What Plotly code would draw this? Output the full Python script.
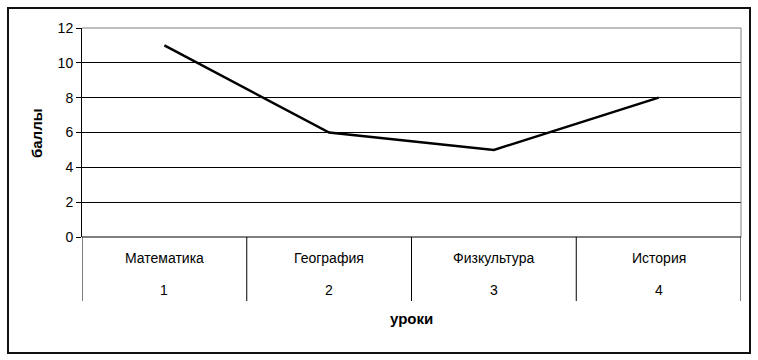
import plotly.graph_objects as go

subjects = ["Математика", "География", "Физкультура", "История"]
lesson_numbers = ["1", "2", "3", "4"]
scores = [11, 6, 5, 8]
y_ticks = [0, 2, 4, 6, 8, 10, 12]

W, H = 758, 360
L, R, T, B = 82, 741, 28, 237
PW, PH = R - L, B - T

def px_x(x):
    return (x - L) / PW

def px_y(y):
    return (B - y) / PH

positions = list(range(1, len(subjects) + 1))
font = "Liberation Sans, Arial, sans-serif"
FS = 14

fig = go.Figure()
fig.add_trace(go.Scatter(x=positions, y=scores, mode="lines",
                         line=dict(color="black", width=2.5), showlegend=False,
                         hoverinfo="skip"))

fig.update_layout(
    width=W, height=H,
    margin=dict(l=L, r=W - R, t=T, b=H - B),
    paper_bgcolor="white", plot_bgcolor="white",
    font=dict(family=font, size=FS, color="black"),
    xaxis=dict(range=[0.5, len(subjects) + 0.5], showticklabels=False, showgrid=False,
               zeroline=False, showline=False, ticks=""),
    yaxis=dict(range=[0, 12], tickvals=y_ticks, showgrid=True, gridcolor="black",
               gridwidth=1, zeroline=False, showline=True, linecolor="black",
               linewidth=1, ticks="outside", ticklen=5, tickcolor="black",
               tickfont=dict(size=FS, color="black")),
)

shapes = []
shapes.append(dict(type="line", xref="paper", yref="paper", x0=0, x1=1, y0=1, y1=1,
                   line=dict(color="#808080", width=1)))
shapes.append(dict(type="line", xref="paper", yref="paper", x0=1, x1=1, y0=0, y1=1,
                   line=dict(color="#808080", width=1)))
shapes.append(dict(type="line", xref="paper", yref="paper", x0=0, x1=1, y0=0, y1=0,
                   line=dict(color="black", width=1)))
for i in range(len(subjects) + 1):
    shapes.append(dict(type="line", xref="x", yref="paper", x0=0.5 + i, x1=0.5 + i,
                       y0=0, y1=px_y(301), line=dict(color="black", width=1)))
shapes.append(dict(type="rect", xref="paper", yref="paper",
                   x0=px_x(8), x1=px_x(750), y0=px_y(353), y1=px_y(8),
                   line=dict(color="#111111", width=2)))
fig.update_layout(shapes=shapes)

annotations = []
for p, s, n in zip(positions, subjects, lesson_numbers):
    annotations.append(dict(x=p, y=px_y(258), xref="x", yref="paper", text=s,
                            xanchor="center", yanchor="middle",
                            showarrow=False, font=dict(size=FS, color="black")))
    annotations.append(dict(x=p, y=px_y(290), xref="x", yref="paper", text=n,
                            xanchor="center", yanchor="middle",
                            showarrow=False, font=dict(size=FS, color="black")))
annotations.append(dict(x=px_x(411), y=px_y(318), xref="paper", yref="paper",
                        text="<b>уроки</b>", showarrow=False,
                        xanchor="center", yanchor="middle",
                        font=dict(size=15, color="black")))
annotations.append(dict(x=px_x(36), y=px_y(133), xref="paper", yref="paper",
                        text="<b>баллы</b>", textangle=-90, showarrow=False,
                        xanchor="center", yanchor="middle",
                        font=dict(size=15, color="black")))
fig.update_layout(annotations=annotations)

fig.write_html("out.html", config={"displayModeBar": False},
               post_script="document.body.style.margin='0';document.body.style.overflow='hidden';")
